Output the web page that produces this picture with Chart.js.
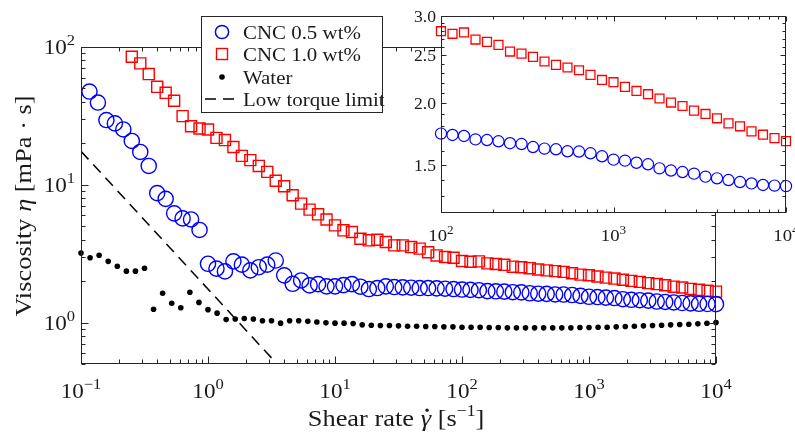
<!DOCTYPE html>
<html>
<head>
<meta charset="utf-8">
<script src="https://cdn.jsdelivr.net/npm/chart.js@4.4.0/dist/chart.umd.min.js"></script>
<style>
  html, body { margin: 0; padding: 0; background: #fff; }
  #wrap { position: relative; width: 795px; height: 434px; }
  #wrap canvas { position: absolute; left: 0; top: 0; }
</style>
</head>
<body>
<div id="wrap">
  <canvas id="mainChart" width="795" height="434"></canvas>
  <canvas id="insetChart" width="795" height="434"></canvas>
</div>
<script>
/* ===== Data ===== */
// shear rates of the CNC runs (15 points per decade)
const shearRateCNC = [
  0.1166, 0.1359, 0.1585, 0.1848, 0.2154, 0.2512, 0.2929, 0.3415, 0.3981, 0.4642, 0.5412, 0.6310, 0.7356, 0.8577,
  1, 1.166, 1.359, 1.585, 1.848, 2.154, 2.512, 2.929, 3.415, 3.981, 4.642, 5.412, 6.310, 7.356, 8.577,
  10, 11.66, 13.59, 15.85, 18.48, 21.54, 25.12, 29.29, 34.15, 39.81, 46.42, 54.12, 63.10, 73.56, 85.77,
  100, 116.6, 135.9, 158.5, 184.8, 215.4, 251.2, 292.9, 341.5, 398.1, 464.2, 541.2, 631.0, 735.6, 857.7,
  1000, 1166, 1359, 1585, 1848, 2154, 2512, 2929, 3415, 3981, 4642, 5412, 6310, 7356, 8577, 10000
];
const viscCNC05 = [
  47.5, 39.5, 29.5, 27.9, 25.2, 20.8, 17.3, 13.7, 8.7, 7.9, 6.2, 5.7, 5.6, 4.7,
  2.67, 2.46, 2.35, 2.78, 2.63, 2.39, 2.52, 2.63, 2.82, 2.20, 1.91, 2.02, 1.86, 1.90, 1.83,
  1.83, 1.87, 1.90, 1.82, 1.75, 1.78, 1.83, 1.81, 1.80, 1.79, 1.78, 1.78, 1.77, 1.76, 1.75,
  1.736, 1.725, 1.717, 1.690, 1.685, 1.675, 1.660, 1.654, 1.631, 1.619, 1.614, 1.599, 1.597, 1.584, 1.562,
  1.538, 1.531, 1.516, 1.505, 1.477, 1.462, 1.452, 1.441, 1.421, 1.410, 1.399, 1.386, 1.377, 1.367, 1.363, 1.360
];
// CNC 1.0 starts at the 6th shear rate
const viscCNC10 = [
  85.0, 76.1, 63.6, 51.4, 46.5, 40.7, 31.5, 26.6, 25.6,
  25.2, 21.9, 21.1, 18.8, 16.2, 15.1, 13.7, 12.4, 10.7, 9.75, 8.39, 7.30, 6.6, 6.1, 5.6,
  5.07, 4.67, 4.54, 4.06, 3.95, 3.99, 3.84, 3.63, 3.63, 3.53, 3.44, 3.24, 3.07, 2.99, 2.95,
  2.795, 2.762, 2.779, 2.689, 2.660, 2.623, 2.543, 2.519, 2.480, 2.428, 2.390, 2.361, 2.331, 2.281, 2.228,
  2.205, 2.157, 2.117, 2.085, 2.044, 2.006, 1.974, 1.932, 1.902, 1.864, 1.821, 1.796, 1.754, 1.727, 1.700, 1.676
];
// water run (14 points per decade)
const shearRateWater = [
  0.1, 0.1179, 0.1389, 0.1638, 0.1931, 0.2276, 0.2683, 0.3162, 0.3728, 0.4394, 0.5179, 0.6105, 0.7197, 0.8483,
  1, 1.179, 1.389, 1.638, 1.931, 2.276, 2.683, 3.162, 3.728, 4.394, 5.179, 6.105, 7.197, 8.483,
  10, 11.79, 13.89, 16.38, 19.31, 22.76, 26.83, 31.62, 37.28, 43.94, 51.79, 61.05, 71.97, 84.83,
  100, 117.9, 138.9, 163.8, 193.1, 227.6, 268.3, 316.2, 372.8, 439.4, 517.9, 610.5, 719.7, 848.3,
  1000, 1179, 1389, 1638, 1931, 2276, 2683, 3162, 3728, 4394, 5179, 6105, 7197, 8483, 10000
];
const viscWater = [
  3.19, 2.95, 3.08, 2.78, 2.56, 2.36, 2.36, 2.48, 1.25, 1.63, 1.38, 1.28, 1.66, 1.40,
  1.24, 1.17, 1.05, 1.06, 1.07, 1.06, 1.03, 1.03, 0.99, 1.03, 1.03, 1.02, 1.01, 0.995,
  0.99, 0.99, 0.985, 0.962, 0.956, 0.951, 0.951, 0.946, 0.940, 0.940, 0.935, 0.935, 0.930, 0.930,
  0.925, 0.925, 0.925, 0.920, 0.920, 0.915, 0.915, 0.915, 0.915, 0.915, 0.915, 0.915, 0.915, 0.920,
  0.920, 0.925, 0.925, 0.930, 0.935, 0.940, 0.946, 0.951, 0.956, 0.962, 0.967, 0.972, 0.978, 0.989, 1.0
];
const torqueLimitRate = [0.1, 3.2];
const torqueLimitVisc = [17.5, 0.547];

const seriesLabels = ['CNC 0.5 wt%', 'CNC 1.0 wt%', 'Water', 'Low torque limit'];

/* ===== Ticks ===== */
const mainXTicks = [0.1, 1, 10, 100, 1000, 10000];
const mainXExps = ['\u22121', '0', '1', '2', '3', '4'];
const mainYTicks = [1, 10, 100];
const mainYExps = ['0', '1', '2'];
const insetXTicks = [100, 1000, 10000];
const insetXExps = ['2', '3', '4'];
const insetYTicks = [1.5, 2.0, 2.5, 3.0];
const insetYLabels = ['1.5', '2.0', '2.5', '3.0'];

/* ===== Style ===== */
const SERIF = '"Liberation Serif", "Times New Roman", serif';
const AXIS_COLOR = '#262626';
const TEXT_COLOR = '#1a1a1a';
const STRETCH = 1.1;   // widen Times a bit towards Computer Modern
const BLUE = '#0000ff';
const RED = '#ff0000';

const toPoints = (xs, ys) => ys.map((y, i) => ({ x: xs[i], y }));

/* ===== Drawing helpers ===== */
function fontOf(r) {
  return (r.italic ? 'italic ' : '') + r.size + 'px ' + SERIF;
}

function drawRuns(ctx, runs, x, y, align) {
  let total = 0;
  runs.forEach(r => { ctx.font = fontOf(r); r.w = ctx.measureText(r.text).width; total += r.w; });
  ctx.save();
  ctx.translate(x, y);
  ctx.scale(STRETCH, 1);
  ctx.fillStyle = TEXT_COLOR;
  ctx.textBaseline = 'alphabetic';
  ctx.textAlign = 'left';
  let cx = align === 'center' ? -total / 2 : align === 'right' ? -total : 0;
  runs.forEach(r => {
    ctx.font = fontOf(r);
    ctx.fillText(r.text, cx, r.dy || 0);
    if (r.dot) {
      ctx.beginPath();
      ctx.arc(cx + r.w * 0.62, -r.size * 0.66, r.size * 0.065, 0, Math.PI * 2);
      ctx.fill();
    }
    cx += r.w;
  });
  ctx.restore();
}

function powLabel(exp, size) {
  return [
    { text: '10', size },
    { text: exp, size: Math.round(size * 0.7), dy: -size * 0.42 }
  ];
}

function logTickValues(min, max) {
  const vals = [];
  for (let d = Math.pow(10, Math.floor(Math.log10(min))); d <= max; d *= 10) {
    for (let j = 1; j <= 9; j++) {
      const v = d * j;
      if (v >= min * 0.999 && v <= max * 1.001) vals.push({ v, major: j === 1 });
    }
  }
  return vals;
}

function drawFrame(chart, xTicks, yTicks, majorLen, minorLen) {
  const { ctx, chartArea: a, scales: { x, y } } = chart;
  ctx.save();
  ctx.strokeStyle = AXIS_COLOR;
  ctx.lineWidth = 1;
  const L = Math.round(a.left) + 0.5, R = Math.round(a.right) - 0.5;
  const T = Math.round(a.top) + 0.5, B = Math.round(a.bottom) - 0.5;
  ctx.strokeRect(L, T, R - L, B - T);
  ctx.beginPath();
  xTicks.forEach(t => {
    const px = Math.round(x.getPixelForValue(t.v)) + 0.5;
    const len = t.major ? majorLen : minorLen;
    ctx.moveTo(px, B); ctx.lineTo(px, B - len);
    ctx.moveTo(px, T); ctx.lineTo(px, T + len);
  });
  yTicks.forEach(t => {
    const py = Math.round(y.getPixelForValue(t.v)) + 0.5;
    const len = t.major ? majorLen : minorLen;
    ctx.moveTo(L, py); ctx.lineTo(L + len, py);
    ctx.moveTo(R, py); ctx.lineTo(R - len, py);
  });
  ctx.stroke();
  ctx.restore();
}

/* ===== Main chart plugin ===== */
const mainAxesPlugin = {
  id: 'mainAxes',
  afterDraw(chart) {
    const { ctx, chartArea: a, scales: { x, y } } = chart;
    drawFrame(chart, logTickValues(0.1, 10000), logTickValues(0.5, 100), 7, 4);

    // tick labels
    mainXTicks.forEach((v, i) => {
      drawRuns(ctx, powLabel(mainXExps[i], 21), x.getPixelForValue(v), a.bottom + 34, 'center');
    });
    mainYTicks.forEach((v, i) => {
      drawRuns(ctx, powLabel(mainYExps[i], 21), a.left - 6, y.getPixelForValue(v) + 7, 'right');
    });

    // axis titles
    drawRuns(ctx, [
      { text: 'Shear rate ', size: 24 },
      { text: '\u03b3', size: 24, italic: true, dot: true },
      { text: ' [s', size: 24 },
      { text: '\u22121', size: 16, dy: -10 },
      { text: ']', size: 24 }
    ], 396, 426, 'center');

    ctx.save();
    ctx.translate(31, 206);
    ctx.rotate(-Math.PI / 2);
    drawRuns(ctx, [
      { text: 'Viscosity ', size: 24 },
      { text: '\u03b7', size: 24, italic: true },
      { text: ' [mPa \u00b7 s]', size: 24 }
    ], 0, 0, 'center');
    ctx.restore();

    // legend
    const box = { left: 201, top: 16, right: 383, bottom: 113 };
    ctx.save();
    ctx.fillStyle = '#fff';
    ctx.fillRect(box.left, box.top, box.right - box.left, box.bottom - box.top);
    ctx.strokeStyle = AXIS_COLOR;
    ctx.lineWidth = 1;
    ctx.strokeRect(box.left + 0.5, box.top + 0.5, box.right - box.left - 1, box.bottom - box.top - 1);
    const rows = [32, 54, 77, 99];
    const mx = 222;
    // circle
    ctx.strokeStyle = BLUE; ctx.lineWidth = 1.5;
    ctx.beginPath(); ctx.arc(mx, rows[0], 6.6, 0, Math.PI * 2); ctx.stroke();
    // square
    ctx.strokeStyle = RED; ctx.lineWidth = 1.4;
    ctx.strokeRect(mx - 5.5, rows[1] - 5.5, 11, 11);
    // dot
    ctx.fillStyle = '#000';
    ctx.beginPath(); ctx.arc(mx, rows[2], 2.8, 0, Math.PI * 2); ctx.fill();
    // dashes
    ctx.strokeStyle = '#000'; ctx.lineWidth = 1.5;
    ctx.setLineDash([11, 7]);
    ctx.beginPath(); ctx.moveTo(205, rows[3]); ctx.lineTo(236, rows[3]); ctx.stroke();
    ctx.setLineDash([]);
    ctx.restore();
    seriesLabels.forEach((lbl, i) => {
      drawRuns(ctx, [{ text: lbl, size: 19 }], 243, rows[i] + 6.5, 'left');
    });
  }
};

/* ===== Inset plugin ===== */
const insetAxesPlugin = {
  id: 'insetAxes',
  beforeDatasetsDraw(chart) {
    const { ctx, chartArea: a } = chart;
    ctx.save();
    ctx.fillStyle = '#fff';
    ctx.fillRect(a.left, a.top, a.right - a.left, a.bottom - a.top);
    ctx.restore();
  },
  afterDraw(chart) {
    const { ctx, chartArea: a, scales: { x, y } } = chart;
    const yMinor = [];
    for (let i = 13; i <= 30; i++) yMinor.push({ v: i / 10, major: i % 5 === 0 });
    drawFrame(chart, logTickValues(100, 10000), yMinor, 5, 3);
    insetXTicks.forEach((v, i) => {
      drawRuns(ctx, powLabel(insetXExps[i], 17), x.getPixelForValue(v), a.bottom + 28, 'center');
    });
    insetYTicks.forEach((v, i) => {
      drawRuns(ctx, [{ text: insetYLabels[i], size: 16 }], a.left - 5, y.getPixelForValue(v) + 5.5, 'right');
    });
  }
};

/* ===== Charts ===== */
const mainChart = new Chart(document.getElementById('mainChart'), {
  type: 'scatter',
  data: {
    datasets: [
      {
        label: seriesLabels[0],
        data: toPoints(shearRateCNC, viscCNC05),
        pointStyle: 'circle', pointRadius: 7.6, borderWidth: 1.4,
        borderColor: BLUE, backgroundColor: 'rgba(0,0,0,0)', clip: false
      },
      {
        label: seriesLabels[1],
        data: toPoints(shearRateCNC.slice(5), viscCNC10),
        pointStyle: 'rect', pointRadius: 7.8, borderWidth: 1.4,
        borderColor: RED, backgroundColor: 'rgba(0,0,0,0)', clip: false
      },
      {
        label: seriesLabels[2],
        data: toPoints(shearRateWater, viscWater),
        pointStyle: 'circle', pointRadius: 2.8, borderWidth: 0,
        borderColor: '#000', backgroundColor: '#000', clip: false
      },
      {
        label: seriesLabels[3],
        data: toPoints(torqueLimitRate, torqueLimitVisc),
        showLine: true, borderColor: '#000', borderWidth: 1.5, borderDash: [11, 7],
        pointRadius: 0, fill: false
      }
    ]
  },
  options: {
    responsive: false,
    animation: false,
    devicePixelRatio: 1,
    events: [],
    layout: { padding: { left: 81, right: 79, top: 47, bottom: 70 } },
    scales: {
      x: { type: 'logarithmic', min: 0.1, max: 10000, display: false },
      y: { type: 'logarithmic', min: 0.5, max: 100, display: false }
    },
    plugins: { legend: { display: false }, tooltip: { enabled: false } }
  },
  plugins: [mainAxesPlugin]
});

const insetStart = shearRateCNC.indexOf(100);
const insetChart = new Chart(document.getElementById('insetChart'), {
  type: 'scatter',
  data: {
    datasets: [
      {
        label: seriesLabels[0],
        data: toPoints(shearRateCNC, viscCNC05).slice(insetStart),
        pointStyle: 'circle', pointRadius: 5.6, borderWidth: 1.2,
        borderColor: BLUE, backgroundColor: 'rgba(0,0,0,0)', clip: false
      },
      {
        label: seriesLabels[1],
        data: toPoints(shearRateCNC.slice(5), viscCNC10).slice(insetStart - 5),
        pointStyle: 'rect', pointRadius: 6.3, borderWidth: 1.3,
        borderColor: RED, backgroundColor: 'rgba(0,0,0,0)', clip: false
      }
    ]
  },
  options: {
    responsive: false,
    animation: false,
    devicePixelRatio: 1,
    events: [],
    layout: { padding: { left: 441, right: 9, top: 16, bottom: 221 } },
    scales: {
      x: { type: 'logarithmic', min: 100, max: 10000, display: false },
      y: { type: 'logarithmic', min: 1.2, max: 3.0, display: false }
    },
    plugins: { legend: { display: false }, tooltip: { enabled: false } }
  },
  plugins: [insetAxesPlugin]
});
</script>
</body>
</html>
